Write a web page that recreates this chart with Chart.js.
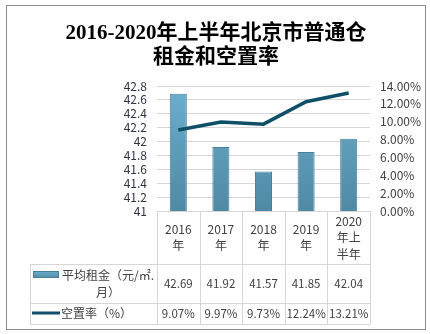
<!DOCTYPE html>
<html>
<head>
<meta charset="utf-8">
<script src="https://cdn.jsdelivr.net/npm/chart.js@4"></script>
<style>
  html, body { margin: 0; background: #fff; }
</style>
</head>
<body>
<canvas id="chart" width="430" height="334"></canvas>
<script>
// DATA
const titleLines = ['2016-2020年上半年北京市普通仓', '租金和空置率'];
const categories = [['2016', '年'], ['2017', '年'], ['2018', '年'], ['2019', '年'], ['2020', '年上', '半年']];
const rentLabel = ['平均租金（元/㎡.', '月）'];
const rent = [42.69, 41.92, 41.57, 41.85, 42.04];
const vacancyLabel = '空置率（%）';
const vacancy = [9.07, 9.97, 9.73, 12.24, 13.21];
const rentTicks = { min: 41, max: 42.8, step: 0.2 };
const vacancyTicks = { min: 0, max: 14, step: 2 };

const FONT = '"Noto Sans CJK SC", "Noto Sans", sans-serif';
const TEXT = '#404040';
const LINE = '#0f4f67';
const GRID = '#d6d6d6';

function barFill(ctx, top, bottom) {
  const g = ctx.createLinearGradient(0, top, 0, bottom);
  g.addColorStop(0, '#6cb0cf');
  g.addColorStop(1, '#4f89a4');
  return g;
}

// frame, title and the data table under the plot
const tablePlugin = {
  id: 'dataTable',
  beforeDraw(chart) {
    const ctx = chart.ctx;
    ctx.save();
    ctx.fillStyle = '#fff';
    ctx.fillRect(0, 0, chart.width, chart.height);
    ctx.strokeStyle = '#8c8c8c';
    ctx.lineWidth = 1;
    ctx.strokeRect(6.5, 5.5, 419, 324);

    ctx.fillStyle = '#000';
    ctx.font = 'bold 21px "Liberation Serif", "Noto Sans CJK SC", serif';
    ctx.textAlign = 'center';
    ctx.textBaseline = 'middle';
    ctx.fillText(titleLines[0], 216, 34);
    ctx.fillText(titleLines[1], 216, 58);
    ctx.restore();
  },
  afterDraw(chart) {
    const { ctx, chartArea: a, scales: { x } } = chart;
    const n = categories.length;
    const colW = (a.right - a.left) / n;
    const top = a.bottom;
    const r1 = top + 53, r2 = r1 + 39, r3 = r2 + 21;
    const left = 30;

    ctx.save();
    ctx.strokeStyle = GRID;
    ctx.lineWidth = 1;
    ctx.beginPath();
    // horizontal lines
    ctx.moveTo(a.left, top + 0.5); ctx.lineTo(a.right, top + 0.5);
    [r1, r2, r3].forEach(y => { ctx.moveTo(left, y + 0.5); ctx.lineTo(a.right, y + 0.5); });
    // vertical lines
    for (let i = 0; i <= n; i++) {
      const xx = Math.round(a.left + i * colW) + 0.5;
      ctx.moveTo(xx, top); ctx.lineTo(xx, r3);
    }
    ctx.moveTo(left + 0.5, r1); ctx.lineTo(left + 0.5, r3);
    ctx.stroke();

    ctx.fillStyle = TEXT;
    ctx.textAlign = 'center';
    ctx.textBaseline = 'middle';
    ctx.font = '12px ' + FONT;
    const lh = 16.5;
    categories.forEach((lines, i) => {
      const cx = x.getPixelForValue(i);
      const y0 = (top + r1) / 2 - (lines.length - 1) * lh / 2;
      lines.forEach((t, j) => ctx.fillText(t, cx, y0 + j * lh));
    });
    ctx.font = '11.5px ' + FONT;
    categories.forEach((lines, i) => {
      const cx = x.getPixelForValue(i);
      ctx.fillText(rent[i].toFixed(2), cx, (r1 + r2) / 2 + 0.5);
      ctx.fillText(vacancy[i].toFixed(2) + '%', cx, (r2 + r3) / 2 + 0.5);
    });

    // row headers with legend keys
    ctx.font = '12px ' + FONT;
    ctx.fillStyle = barFill(ctx, r1 + 7, r1 + 14);
    ctx.fillRect(33, r1 + 7, 26, 7);
    ctx.strokeStyle = '#4a7f98';
    ctx.strokeRect(33.5, r1 + 7.5, 25, 6);
    ctx.fillStyle = TEXT;
    ctx.fillText(rentLabel[0], 108, r1 + 11);
    ctx.fillText(rentLabel[1], 108, r1 + 28);

    ctx.strokeStyle = LINE;
    ctx.lineWidth = 3;
    ctx.beginPath();
    ctx.moveTo(32, r2 + 10); ctx.lineTo(60, r2 + 10);
    ctx.stroke();
    ctx.textAlign = 'left';
    ctx.fillText(vacancyLabel, 61, r2 + 10);
    ctx.restore();
  }
};

const ctx = document.getElementById('chart');
new Chart(ctx, {
  data: {
    labels: categories,
    datasets: [
      {
        type: 'line',
        label: vacancyLabel,
        data: vacancy,
        yAxisID: 'y1',
        borderColor: LINE,
        borderWidth: 3.5,
        pointRadius: 0,
        tension: 0,
        order: 0
      },
      {
        type: 'bar',
        label: rentLabel.join(''),
        data: rent,
        yAxisID: 'y',
        backgroundColor: c => {
          const area = c.chart.chartArea;
          if (!area) return '#5e9fbe';
          return barFill(c.chart.ctx, area.top, area.bottom);
        },
        borderColor: '#4a7f98',
        borderWidth: 1,
        categoryPercentage: 1,
        barPercentage: 0.4,
        order: 1
      }
    ]
  },
  options: {
    responsive: false,
    animation: false,
    layout: { padding: { top: 86, bottom: 123, left: 0, right: 0 } },
    plugins: {
      legend: { display: false },
      tooltip: { enabled: false }
    },
    scales: {
      x: { display: false, offset: true },
      y: {
        position: 'left',
        min: rentTicks.min,
        max: rentTicks.max,
        afterFit: s => { s.width = 157; },
        ticks: {
          stepSize: rentTicks.step,
          autoSkip: false,
          padding: 10,
          color: '#2f3347',
          font: { family: FONT, size: 12 },
          callback: v => String(+v.toFixed(1))
        },
        grid: { color: GRID, drawTicks: false },
        border: { display: false }
      },
      y1: {
        position: 'right',
        min: vacancyTicks.min,
        max: vacancyTicks.max,
        afterFit: s => { s.width = 60; },
        ticks: {
          stepSize: vacancyTicks.step,
          autoSkip: false,
          padding: 10,
          color: TEXT,
          font: { family: FONT, size: 12 },
          callback: v => v.toFixed(2) + '%'
        },
        grid: { display: false, drawTicks: false },
        border: { display: false }
      }
    }
  },
  plugins: [tablePlugin]
});
</script>
</body>
</html>
